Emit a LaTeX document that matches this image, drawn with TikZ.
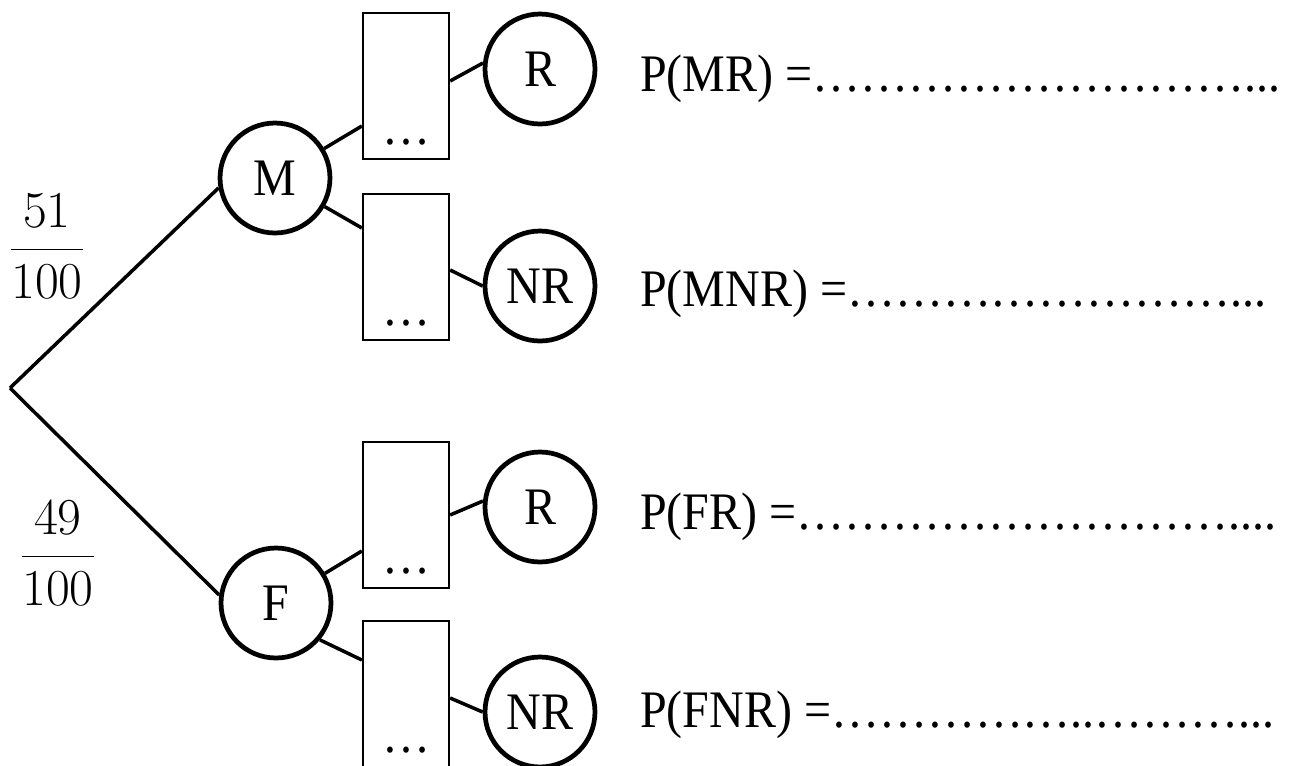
\RequirePackage{fix-cm}
\documentclass[tikz,border=0pt]{standalone}
\usepackage{amsmath}
\usepackage{fontspec}
\setmainfont{Liberation Serif}[FakeStretch=0.91]

\begin{document}
\begin{tikzpicture}[x=0.02cm, y=-0.02cm,
    font=\fontsize{30}{36}\selectfont,
    event/.style={circle, draw, line width=2.7pt, minimum size=2.2cm, inner sep=0pt},
    blank/.style={rectangle, draw, line width=1.3pt, minimum width=1.72cm, minimum height=2.92cm},
    branch/.style={line width=2pt}]
    \clip (0,0) rectangle (1289,765);
    % root:
    \coordinate (root) at (10,388);
    \node[font=\fontsize{29.5}{35}\selectfont] (pM) at (47,246) {$\dfrac{51}{100}$};
    \node[font=\fontsize{29.5}{35}\selectfont] (pF) at (58,553) {$\dfrac{49}{100}$};
    % first level:
    \node[event] (M) at (275,178) {M};
    \node[event] (F) at (276,603) {F};
    \draw [branch] (root) -- (M.190);
    \draw [branch] (root) -- (F.172);
    % boxes:
    \node[blank] (bMR) at (406,86) {};
    \node[blank] (bMNR) at (406,267) {};
    \node[blank] (bFR) at (406,515) {};
    \node[blank] (bFNR) at (406,694) {};
    \node[anchor=base] (dMR) at ([yshift=0.32cm]bMR.south) {…};
    \node[anchor=base] (dMNR) at ([yshift=0.32cm]bMNR.south) {…};
    \node[anchor=base] (dFR) at ([yshift=0.32cm]bFR.south) {…};
    \node[anchor=base] (dFNR) at ([yshift=0.32cm]bFNR.south) {…};
    % second level:
    \node[event] (MR) at (540,69) {R};
    \node[event] (MNR) at (540,286) {NR};
    \node[event] (FR) at (540,507) {R};
    \node[event] (FNR) at (540,712) {NR};
    \draw [branch] (M) -- ([yshift=-0.8cm]bMR.west);
    \draw [branch] (M) -- ([yshift=0.78cm]bMNR.west);
    \draw [branch] (F) -- ([yshift=-0.72cm]bFR.west);
    \draw [branch] (F.-40) -- ([yshift=0.68cm]bFNR.west);
    \draw [branch] ([yshift=0.1cm]bMR.east) -- (MR.174);
    \draw [branch] ([yshift=-0.06cm]bMNR.east) -- (MNR.180);
    \draw [branch] (bFR.east) -- (FR.174);
    \draw [branch] ([yshift=-0.08cm]bFNR.east) -- (FNR.180);
    % results:
    \node[anchor=base west] (rMR) at (634,91) {P(MR) =………………………...};
    \node[anchor=base west] (rMNR) at (634,306) {P(MNR) =……………………...};
    \node[anchor=base west] (rFR) at (634,529) {P(FR) =………………………....};
    \node[anchor=base west] (rFNR) at (634,727) {P(FNR) =……………..………...};
\end{tikzpicture}
\end{document}
